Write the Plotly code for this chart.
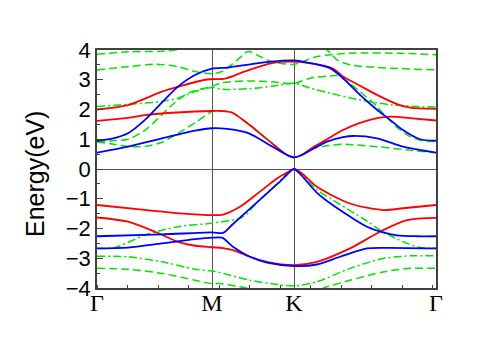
import plotly.graph_objects as go

# k-path positions (arbitrary units along Γ-M-K-Γ)
kpath_pos = [0, 115, 197, 339]
kpath_labels = ["Γ", "M", "K", "Γ"]

# conduction bands (red / blue)
red_c1_k = [0, 31, 50, 80, 115, 125, 135, 146, 153, 173, 190, 197, 205, 213, 230, 246, 263, 280, 293, 313, 339]
red_c1_e = [1.62, 1.72, 1.82, 1.90, 1.95, 1.95, 1.90, 1.65, 1.47, 0.92, 0.47, 0.39, 0.48, 0.66, 1.00, 1.31, 1.55, 1.71, 1.76, 1.71, 1.63]
red_c2_k = [0, 31, 65, 85, 108, 115, 128, 148, 175, 197, 213, 236, 246, 263, 280, 300, 313, 339]
red_c2_e = [2.00, 2.15, 2.60, 2.80, 3.00, 3.02, 3.04, 3.28, 3.56, 3.61, 3.56, 3.38, 3.11, 2.80, 2.49, 2.18, 2.06, 2.02]
blue_c1_k = [0, 31, 65, 98, 115, 130, 150, 163, 173, 190, 197, 205, 213, 230, 246, 256, 280, 306, 339]
blue_c1_e = [0.55, 0.75, 1.03, 1.29, 1.37, 1.35, 1.22, 1.00, 0.80, 0.47, 0.39, 0.47, 0.62, 0.92, 1.07, 1.11, 1.03, 0.75, 0.55]
blue_c2_k = [0, 15, 31, 48, 65, 81, 98, 115, 131, 158, 185, 197, 213, 233, 246, 263, 280, 291, 306, 323, 339]
blue_c2_e = [0.95, 1.02, 1.20, 1.65, 2.24, 2.77, 3.16, 3.37, 3.41, 3.54, 3.64, 3.65, 3.56, 3.39, 3.05, 2.49, 1.99, 1.71, 1.31, 1.00, 0.95]

# valence bands (red / blue)
red_v1_k = [0, 50, 83, 115, 126, 143, 163, 180, 190, 197, 205, 220, 253, 286, 306, 339]
red_v1_e = [-1.21, -1.38, -1.49, -1.55, -1.53, -1.27, -0.76, -0.32, -0.12, 0.0, -0.15, -0.60, -1.16, -1.38, -1.32, -1.21]
red_v2_k = [0, 31, 58, 81, 98, 115, 126, 136, 153, 170, 197, 220, 253, 283, 310, 339]
red_v2_e = [-1.63, -1.77, -2.11, -2.45, -2.58, -2.63, -2.66, -2.73, -2.95, -3.12, -3.23, -3.12, -2.67, -2.11, -1.72, -1.64]
blue_v1_k = [0, 65, 115, 126, 136, 163, 185, 191, 197, 204, 220, 236, 253, 270, 286, 300, 320, 339]
blue_v1_e = [-2.26, -2.20, -2.13, -2.15, -1.85, -1.03, -0.36, -0.15, 0.0, -0.20, -0.80, -1.22, -1.60, -1.94, -2.13, -2.23, -2.26, -2.26]
blue_v2_k = [0, 31, 65, 98, 115, 125, 136, 153, 170, 197, 220, 243, 270, 290, 339]
blue_v2_e = [-2.67, -2.64, -2.50, -2.36, -2.31, -2.31, -2.61, -2.95, -3.15, -3.26, -3.21, -2.95, -2.67, -2.65, -2.67]

# green bands
green_c1_k = [0, 15, 31, 48, 65, 81, 98, 115, 125, 135, 146, 153, 173, 190, 197, 205, 213, 230, 246, 280, 313, 339]
green_c1_e = [0.92, 0.84, 0.76, 0.76, 0.90, 1.20, 1.55, 1.93, 1.95, 1.90, 1.65, 1.47, 0.92, 0.47, 0.39, 0.48, 0.66, 0.78, 0.83, 0.75, 0.63, 0.55]
green_c2_k = [0, 15, 31, 48, 58, 75, 91, 115, 125, 153, 175, 197, 213, 233, 240, 250, 263, 280, 290, 300, 313, 325, 339]
green_c2_e = [0.92, 0.95, 1.00, 1.30, 1.60, 2.15, 2.55, 2.78, 2.90, 2.96, 2.93, 2.88, 3.05, 3.13, 3.14, 2.95, 2.60, 2.10, 1.72, 1.40, 1.09, 0.95, 0.92]
green_c3_k = [0, 33, 65, 81, 98, 115, 125, 153, 175, 197, 213, 233, 263, 296, 339]
green_c3_e = [2.10, 2.18, 2.27, 2.38, 2.60, 2.74, 2.68, 2.70, 2.78, 2.88, 2.72, 2.55, 2.32, 2.15, 2.08]
green_c4_k = [0, 31, 58, 81, 98, 115, 125, 140, 151, 163, 175, 197, 220, 253, 303, 339]
green_c4_e = [3.33, 3.44, 3.52, 3.44, 3.28, 3.20, 3.28, 3.65, 3.95, 3.78, 3.61, 3.52, 3.78, 3.89, 3.89, 3.84]
green_c5_k = [0, 31, 65, 90, 115, 150, 197, 220, 230, 240, 253, 280, 339]
green_c5_e = [3.86, 3.94, 3.96, 4.05, 4.20, 4.30, 4.25, 4.10, 4.00, 3.67, 3.50, 3.41, 3.33]
green_v1_k = [0, 18, 48, 81, 115, 143, 150, 163, 180, 197, 220, 236, 253, 270, 283, 300, 310, 323, 339]
green_v1_e = [-2.67, -2.64, -2.22, -1.94, -1.82, -1.66, -1.50, -1.02, -0.50, 0.0, -0.70, -1.04, -1.40, -1.75, -2.05, -2.35, -2.50, -2.64, -2.67]
green_v2_k = [0, 31, 65, 98, 115, 123, 153, 180, 197, 220, 253, 286, 313, 339]
green_v2_e = [-2.93, -2.95, -3.12, -3.37, -3.43, -3.48, -3.74, -3.88, -3.93, -3.79, -3.34, -3.01, -2.92, -2.92]
green_v3_k = [0, 31, 65, 98, 115, 123, 143, 170, 197, 215, 230, 253, 286, 313, 339]
green_v3_e = [-3.34, -3.37, -3.51, -3.74, -3.85, -3.85, -3.96, -4.15, -4.25, -4.15, -3.96, -3.74, -3.46, -3.34, -3.34]

GREEN = "#00e400"
DASH = "8px,4px"
DASHDOT = "8px,3px,2px,3px"

fig = go.Figure()

greens = [
    (green_c1_k, green_c1_e, DASH),
    (green_c2_k, green_c2_e, DASH),
    (green_c3_k, green_c3_e, DASHDOT),
    (green_c4_k, green_c4_e, DASH),
    (green_c5_k, green_c5_e, DASH),
    (green_v1_k, green_v1_e, DASHDOT),
    (green_v2_k, green_v2_e, DASHDOT),
    (green_v3_k, green_v3_e, DASH),
]
for k, e, dash in greens:
    fig.add_trace(go.Scatter(x=k, y=e, mode="lines", line=dict(color=GREEN, width=1.5, dash=dash, shape="spline", smoothing=0.8)))

for k, e in [(red_c1_k, red_c1_e), (red_c2_k, red_c2_e), (red_v1_k, red_v1_e), (red_v2_k, red_v2_e)]:
    fig.add_trace(go.Scatter(x=k, y=e, mode="lines", line=dict(color="#ff0000", width=1.8, shape="spline", smoothing=0.8)))

for k, e in [(blue_c1_k, blue_c1_e), (blue_c2_k, blue_c2_e), (blue_v1_k, blue_v1_e), (blue_v2_k, blue_v2_e)]:
    fig.add_trace(go.Scatter(x=k, y=e, mode="lines", line=dict(color="#0000ff", width=1.8, shape="spline", smoothing=0.8)))

# page body adds an 8px offset, so margins are shifted to land the frame where the reference has it
fig.update_layout(
    width=485, height=339,
    margin=dict(l=89, r=57, t=42, b=59),
    paper_bgcolor="white", plot_bgcolor="white",
    showlegend=False,
    font=dict(family="Liberation Sans, Arial, sans-serif", color="black"),
)
fig.update_xaxes(
    range=[0, 339], tickmode="array", tickvals=kpath_pos, ticktext=kpath_labels,
    tickfont=dict(family="Liberation Serif, Times New Roman, serif", size=24),
    ticks="", ticklabelstandoff=-8,
    showgrid=True, gridcolor="#555555", gridwidth=1,
    showline=True, linecolor="#404040", linewidth=1.5, mirror=True, zeroline=False,
    minor=dict(ticks="inside", ticklen=3, tickcolor="#404040", tickmode="linear", tick0=0, dtick=30.5, showgrid=False),
)
fig.update_yaxes(
    range=[-4, 4], dtick=1, tick0=0, ticks="inside", ticklen=6, tickcolor="#404040",
    tickfont=dict(size=22), showgrid=False,
    zeroline=True, zerolinecolor="#555555", zerolinewidth=1,
    showline=True, linecolor="#404040", linewidth=1.5, mirror=True,
    minor=dict(ticks="inside", ticklen=3, tickcolor="#404040", dtick=0.5),
)
fig.add_annotation(
    text="Energy(eV)", textangle=-90, xref="paper", yref="paper",
    x=-0.185, y=0.48, xanchor="center", yanchor="middle", showarrow=False,
    font=dict(size=25, family="Liberation Sans, Arial, sans-serif"),
)

fig.write_html("out.html")
